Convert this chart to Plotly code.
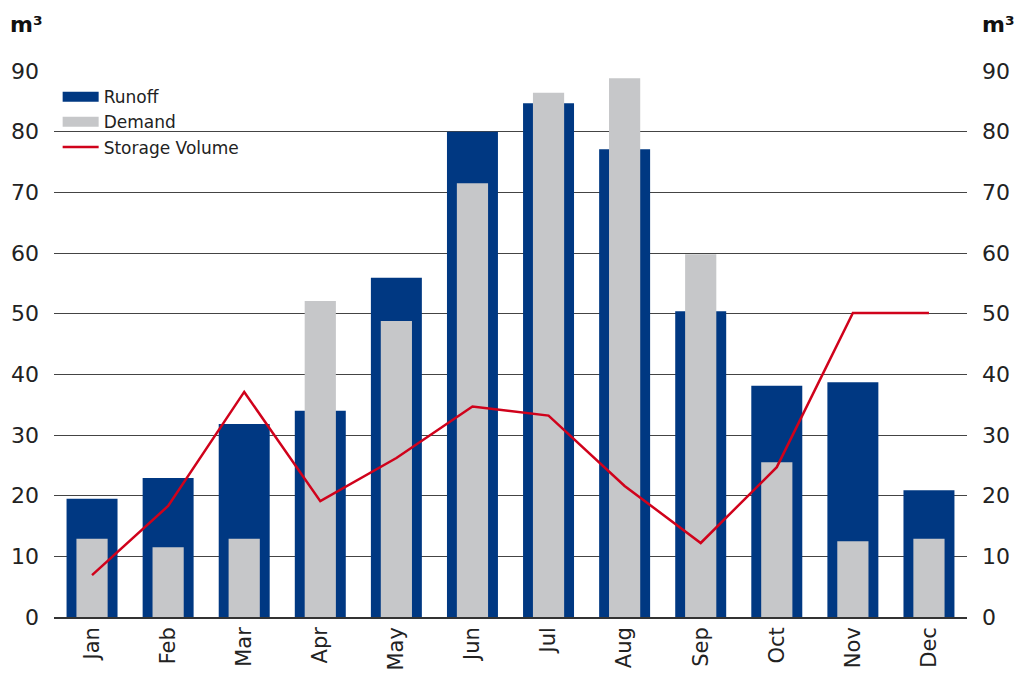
import plotly.graph_objects as go

months = ["Jan", "Feb", "Mar", "Apr", "May", "Jun", "Jul", "Aug", "Sep", "Oct", "Nov", "Dec"]
runoff = [19.5, 22.9, 31.8, 34.0, 55.9, 80.0, 84.7, 77.1, 50.4, 38.1, 38.7, 20.9]
demand = [12.9, 11.5, 12.9, 52.1, 48.8, 71.5, 86.4, 88.8, 59.8, 25.5, 12.5, 12.9]
storage = [6.9, 18.3, 37.1, 19.1, 26.2, 34.7, 33.2, 21.6, 12.2, 24.7, 50.1, 50.1]

blue = "#003882"
grey = "#c6c7c9"
red = "#d0021b"
font = "DejaVu Sans"

fig = go.Figure()
fig.add_trace(go.Bar(x=months, y=runoff, name="Runoff", width=0.67, showlegend=False,
                     marker=dict(color=blue, line=dict(width=0))))
fig.add_trace(go.Bar(x=months, y=demand, name="Demand", width=0.41, showlegend=False,
                     marker=dict(color=grey, line=dict(width=0))))
fig.add_trace(go.Scatter(x=months, y=storage, name="Storage Volume", mode="lines",
                         line=dict(color=red, width=2.5), yaxis="y2", showlegend=False))

# legend entries (wide rectangular swatches like the original)
fig.add_trace(go.Scatter(x=[None], y=[None], name="Runoff", mode="lines",
                         line=dict(color=blue, width=16)))
fig.add_trace(go.Scatter(x=[None], y=[None], name="Demand", mode="lines",
                         line=dict(color=grey, width=16)))
fig.add_trace(go.Scatter(x=[None], y=[None], name="Storage Volume", mode="lines",
                         line=dict(color=red, width=2.5)))

axis_common = dict(range=[0, 90], tickvals=list(range(0, 91, 10)),
                   tickfont=dict(family=font, size=22, color="#222"),
                   ticks="", fixedrange=True, automargin=False)

fig.update_layout(
    width=1016, height=675,
    margin=dict(l=54, r=49, t=71, b=58),
    barmode="overlay",
    plot_bgcolor="white", paper_bgcolor="white",
    showlegend=True,
    legend=dict(x=0.004, y=0.985, xanchor="left", yanchor="top",
                font=dict(family=font, size=17, color="#222"),
                bgcolor="rgba(0,0,0,0)", tracegroupgap=0, itemwidth=36),
    xaxis=dict(tickangle=-90, tickfont=dict(family=font, size=21, color="#222"),
               showgrid=False, showline=True, linecolor="#333", linewidth=1.5,
               ticks="", automargin=False, fixedrange=True),
    yaxis=dict(showgrid=True, gridcolor="#444", gridwidth=1, zeroline=False,
               ticklabelstandoff=14, **axis_common),
    yaxis2=dict(overlaying="y", side="right", showgrid=False, zeroline=False,
                ticklabelstandoff=14, **axis_common),
    annotations=[
        dict(text="<b>m³</b>", xref="paper", yref="paper", x=-0.03, y=1.085,
             xanchor="center", yanchor="middle", showarrow=False,
             font=dict(family=font, size=22, color="#111")),
        dict(text="<b>m³</b>", xref="paper", yref="paper", x=1.034, y=1.085,
             xanchor="center", yanchor="middle", showarrow=False,
             font=dict(family=font, size=22, color="#111")),
    ],
)

fig.write_html("out.html", config={"displayModeBar": False},
               post_script="document.body.style.margin='0';document.body.style.overflow='hidden';")
